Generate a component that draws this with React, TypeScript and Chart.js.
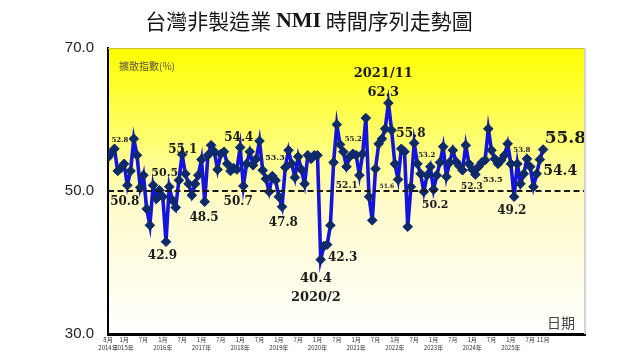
import React, { useEffect, useRef } from "react";
import { Chart, registerables } from "chart.js";

Chart.register(...registerables);

// Monthly NMI values, 2014/8 .. 2025/11
const nmiValues: number[] = [
  54.7, 55.3, 55.9, 52.8, 53.2, 53.8, 50.8, 52.8, 57.3, 55.0, 50.5, 52.2,
  47.5, 45.2, 50.8, 48.9, 50.1, 49.2, 42.9, 50.6, 48.7, 47.7, 51.5, 55.1,
  52.4, 51.0, 49.4, 51.0, 52.2, 54.4, 48.5, 55.0, 56.4, 55.5, 53.0, 55.2,
  55.5, 53.8, 52.8, 53.2, 53.0, 56.1, 50.7, 53.8, 55.5, 53.6, 54.5, 57.0,
  52.9, 51.7, 49.9, 52.1, 51.5, 49.2, 47.8, 53.3, 55.7, 53.8, 51.9, 54.8,
  53.0, 51.0, 55.0, 54.5, 55.0, 55.0, 40.4, 42.3, 42.5, 45.2, 54.0, 59.3,
  56.5, 55.5, 53.4, 54.8, 55.2, 55.0, 52.2, 55.2, 60.2, 49.2, 45.9, 53.1,
  56.6, 57.3, 58.7, 62.3, 58.5, 53.8, 51.6, 55.9, 55.5, 45.0, 50.6, 56.7,
  53.8, 52.4, 49.9, 52.2, 53.4, 50.2, 52.2, 54.0, 56.2, 52.0, 54.0, 55.7,
  54.1, 53.5, 52.9, 56.4, 53.8, 53.0, 52.3, 53.4, 54.0, 54.3, 58.7, 55.7,
  54.5, 53.8, 54.3, 55.0, 56.6, 53.8, 49.2, 53.8, 51.0, 52.4, 54.5, 53.4,
  50.6, 52.4, 54.4, 55.8,
];

// X-axis ticks (month index from 2014/8)
const tickPositions: number[] = [0, 5, 11, 17, 23, 29, 35, 41, 47, 53, 59, 65, 71, 77, 83, 89, 95, 101, 107, 113, 119, 125, 131, 135];
const tickMonthLabels: string[] = ["8月", "1月", "7月", "1月", "7月", "1月", "7月", "1月", "7月", "1月", "7月", "1月", "7月", "1月", "7月", "1月", "7月", "1月", "7月", "1月", "7月", "1月", "7月", "11月"];
const tickYearLabels: string[] = ["2014年", "2015年", "", "2016年", "", "2017年", "", "2018年", "", "2019年", "", "2020年", "", "2021年", "", "2022年", "", "2023年", "", "2024年", "", "2025年", "", ""];

// Value annotations: text, anchor month index, anchor value, font size
const noteTexts: string[] = ["52.8", "50.8", "42.9", "50.5", "55.1", "48.5", "54.4", "50.7", "53.3", "47.8", "40.4", "2020/2", "42.3", "52.1", "55.2", "2021/11", "62.3", "51.6", "55.8", "53.2", "50.2", "52.3", "53.5", "53.8", "49.2", "55.8", "54.4"];
const noteIndex: number[] = [3.7, 5.2, 16.9, 17.6, 23.2, 29.8, 40.6, 40.4, 51.8, 54.4, 64.5, 64.5, 72.8, 74.1, 76.1, 85.4, 85.4, 86.5, 94.0, 98.9, 101.5, 112.9, 119.4, 128.4, 125.3, 141.9, 140.3];
const noteValue: number[] = [57.1, 48.5, 40.9, 52.5, 55.7, 46.2, 57.4, 48.5, 54.6, 45.6, 37.8, 35.1, 40.7, 50.8, 57.2, 66.4, 63.8, 50.6, 58.0, 55.0, 48.0, 50.6, 51.5, 55.7, 47.2, 57.4, 52.7];
const noteSize: number[] = [7, 12, 12, 11, 12, 12, 12, 12, 8, 12, 13, 13, 12, 9, 7, 13, 13, 6, 12, 7, 11, 9, 8, 7, 12, 17, 14];

const decorPlugin = {
  id: "decor",
  beforeDraw(chart: any) {
    const { ctx, chartArea: a } = chart;
    ctx.save();
    const g = ctx.createLinearGradient(0, a.top, 0, a.bottom);
    g.addColorStop(0, "#FFFF00");
    g.addColorStop(0.3, "#FFFF6A");
    g.addColorStop(0.55, "#FFFBCB");
    g.addColorStop(1, "#FFFFFF");
    ctx.fillStyle = g;
    ctx.fillRect(a.left, a.top, a.right - a.left, a.bottom - a.top);
    ctx.restore();
  },
  afterDatasetsDraw(chart: any) {
    const { ctx, chartArea: a, scales } = chart;
    const y50 = scales.y.getPixelForValue(50);
    ctx.save();
    ctx.strokeStyle = "#1a1a1a";
    ctx.lineWidth = 1.8;
    ctx.setLineDash([6, 3.5]);
    ctx.beginPath();
    ctx.moveTo(a.left, y50);
    ctx.lineTo(a.right, y50);
    ctx.stroke();
    ctx.setLineDash([]);
    ctx.fillStyle = "#1c1c1c";
    ctx.textAlign = "center";
    ctx.textBaseline = "middle";
    for (let k = 0; k < noteTexts.length; k++) {
      ctx.font = `bold ${noteSize[k]}px "DejaVu Serif"`;
      ctx.fillText(noteTexts[k], scales.x.getPixelForValue(noteIndex[k]), scales.y.getPixelForValue(noteValue[k]));
    }
    ctx.restore();
  },
  afterDraw(chart: any) {
    const { ctx, chartArea: a } = chart;
    ctx.save();
    // top & right borders
    ctx.strokeStyle = "#C9C23A";
    ctx.lineWidth = 1;
    ctx.beginPath();
    ctx.moveTo(a.left, a.top + 0.5);
    ctx.lineTo(a.right, a.top + 0.5);
    ctx.stroke();
    ctx.strokeStyle = "#D4D4D4";
    ctx.lineWidth = 2;
    ctx.beginPath();
    ctx.moveTo(a.right, a.top);
    ctx.lineTo(a.right, a.bottom);
    ctx.stroke();
    // title
    const parts = [
      { t: "台灣非製造業 ", f: '21px "Noto Sans CJK TC"' },
      { t: "NMI", f: 'bold 22px "Liberation Serif"' },
      { t: " 時間序列走勢圖", f: '21px "Noto Sans CJK TC"' },
    ];
    let total = 0;
    const widths = parts.map((p) => {
      ctx.font = p.f;
      const w = ctx.measureText(p.t).width;
      total += w;
      return w;
    });
    let x = 309 - total / 2;
    ctx.fillStyle = "#151515";
    ctx.textBaseline = "middle";
    ctx.textAlign = "left";
    parts.forEach((p, k) => {
      ctx.font = p.f;
      ctx.fillText(p.t, x, 21);
      x += widths[k];
    });
    // inner captions
    ctx.font = '10px "Noto Sans CJK TC"';
    ctx.fillStyle = "#555040";
    ctx.fillText("擴散指數(%)", a.left + 11, a.top + 18);
    ctx.font = '14px "Noto Sans CJK TC"';
    ctx.fillStyle = "#444444";
    ctx.textAlign = "right";
    ctx.fillText("日期", a.right - 10, a.bottom - 11);
    ctx.restore();
  },
};

export default function App() {
  const ref = useRef<HTMLCanvasElement | null>(null);
  useEffect(() => {
    if (!ref.current) return;
    const chart = new Chart(ref.current, {
      type: "line",
      data: {
        datasets: [
          {
            data: nmiValues.map((v, i) => ({ x: i, y: v })),
            borderColor: "#1414DC",
            borderWidth: 3.6,
            pointStyle: "rectRot",
            pointRadius: 4.8,
            pointBackgroundColor: "#0E2A6C",
            pointBorderColor: "#0E2A6C",
            pointBorderWidth: 1,
            tension: 0,
          },
        ],
      },
      options: {
        animation: false,
        responsive: false,
        devicePixelRatio: 1,
        layout: { padding: { top: 48, right: 55, bottom: 0, left: 0 } },
        plugins: { legend: { display: false }, tooltip: { enabled: false }, title: { display: false } },
        scales: {
          x: {
            type: "linear",
            min: 0,
            max: 148,
            grid: { display: false, drawTicks: false },
            border: { display: true, color: "#000000", width: 3 },
            afterBuildTicks: (axis: any) => {
              axis.ticks = tickPositions.map((v) => ({ value: v }));
            },
            afterFit: (axis: any) => {
              axis.height = 25;
            },
            ticks: {
              autoSkip: false,
              maxRotation: 0,
              padding: 2,
              color: "#333333",
              font: { size: 6, family: '"Noto Sans CJK TC"', lineHeight: 1.3 },
              callback: (_v: any, idx: number) =>
                tickYearLabels[idx] ? [tickMonthLabels[idx], tickYearLabels[idx]] : tickMonthLabels[idx],
            },
          },
          y: {
            min: 30,
            max: 70,
            grid: { display: false, drawTicks: false },
            border: { display: true, color: "#000000", width: 2 },
            afterFit: (axis: any) => {
              axis.width = 108;
            },
            ticks: {
              stepSize: 20,
              padding: 14,
              color: "#222222",
              font: { size: 15, family: '"Liberation Sans"' },
              callback: (v: any) => Number(v).toFixed(1),
            },
          },
        },
      },
      plugins: [decorPlugin],
    });
    return () => chart.destroy();
  }, []);
  return (
    <div style={{ position: "fixed", left: 0, top: 0, width: 640, height: 359, background: "#fff" }}>
      <canvas ref={ref} width={640} height={359} />
    </div>
  );
}
